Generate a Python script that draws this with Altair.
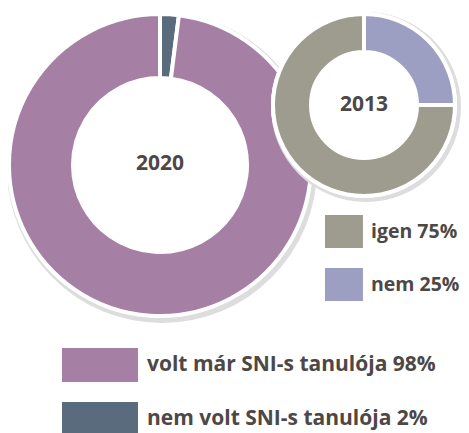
import altair as alt
import pandas as pd

# 2020 data
cat_2020 = ["nem volt SNI-s tanulója", "volt már SNI-s tanulója"]
val_2020 = [2, 98]
col_2020 = ["#5a6b7d", "#a580a4"]

# 2013 data
cat_2013 = ["nem", "igen"]
val_2013 = [25, 75]
col_2013 = ["#9c9ec2", "#9d9c8e"]

FONT = "Open Sans"
TXT = "#4d4846"
FS = 21
FW = "bold"

d20 = pd.DataFrame({"cat": cat_2020, "val": val_2020, "ord": [0, 1]})
d20["label"] = d20["cat"] + " " + d20["val"].astype(str) + "%"
d13 = pd.DataFrame({"cat": cat_2013, "val": val_2013, "ord": [0, 1]})
d13["label"] = d13["cat"] + " " + d13["val"].astype(str) + "%"

one = pd.DataFrame({"k": [0]})

BX, BY, BR, Br = 152, 157, 149, 89
SX, SY, SR, Sr = 356, 97, 89, 55
SHADOW = "#dcdddc"

def disk(cx, cy, r, color):
    return alt.Chart(one).mark_arc(theta=0, theta2=6.2832, radius=r, fill=color).encode(
        x=alt.value(cx), y=alt.value(cy))

big_legend_order = [d20.label[1], d20.label[0]]
small_legend_order = [d13.label[1], d13.label[0]]

big = alt.Chart(d20).mark_arc(outerRadius=BR + 2, innerRadius=Br - 2, stroke="white", strokeWidth=4).encode(
    theta=alt.Theta("val:Q", stack=True, scale=alt.Scale(domain=[0, 100])),
    order=alt.Order("ord:Q"),
    color=alt.Color("label:N",
                    scale=alt.Scale(domain=big_legend_order, range=[col_2020[1], col_2020[0]]),
                    legend=alt.Legend(title=None, orient="none", legendX=54, legendY=340,
                                      symbolType="M-1,-1H3.47V1H-1Z", symbolSize=1156,
                                      symbolStrokeWidth=0, symbolOpacity=1, labelOffset=51,
                                      labelFont=FONT, labelFontSize=FS, labelFontWeight=FW,
                                      labelColor=TXT, rowPadding=20, padding=0, labelLimit=400)),
    x=alt.value(BX), y=alt.value(BY),
)

small = alt.Chart(d13).mark_arc(outerRadius=SR + 2, innerRadius=Sr - 2, stroke="white", strokeWidth=4).encode(
    theta=alt.Theta("val:Q", stack=True, scale=alt.Scale(domain=[0, 100])),
    order=alt.Order("ord:Q"),
    color=alt.Color("label:N",
                    scale=alt.Scale(domain=small_legend_order, range=[col_2013[1], col_2013[0]]),
                    legend=alt.Legend(title=None, orient="none", legendX=317, legendY=207,
                                      symbolType="M-1,-1H1.3V1H-1Z", symbolSize=1089,
                                      symbolStrokeWidth=0, symbolOpacity=1, labelOffset=13,
                                      labelFont=FONT, labelFontSize=19.5, labelFontWeight=FW,
                                      labelColor=TXT, rowPadding=20, padding=0, labelLimit=400)),
    x=alt.value(SX), y=alt.value(SY),
)

t20 = alt.Chart(one).mark_text(text="2020", font=FONT, fontSize=FS, fontWeight=FW, color=TXT).encode(
    x=alt.value(BX), y=alt.value(BY - 1))
t13 = alt.Chart(one).mark_text(text="2013", font=FONT, fontSize=FS, fontWeight=FW, color=TXT).encode(
    x=alt.value(SX), y=alt.value(SY))

chart = alt.layer(
    disk(BX + 2, BY + 3, BR + 6, SHADOW),
    disk(BX, BY, BR + 3, "white"),
    big,
    disk(SX + 2, SY + 2, SR + 6, SHADOW),
    disk(SX, SY, SR + 4, "white"),
    small,
    t20, t13,
).resolve_scale(color="independent", theta="independent").properties(
    width=453, height=425, autosize=alt.AutoSizeParams(type="none"), padding=0
).configure_view(stroke=None)

chart.save("out.html", embed_options={"renderer": "svg", "actions": False})
